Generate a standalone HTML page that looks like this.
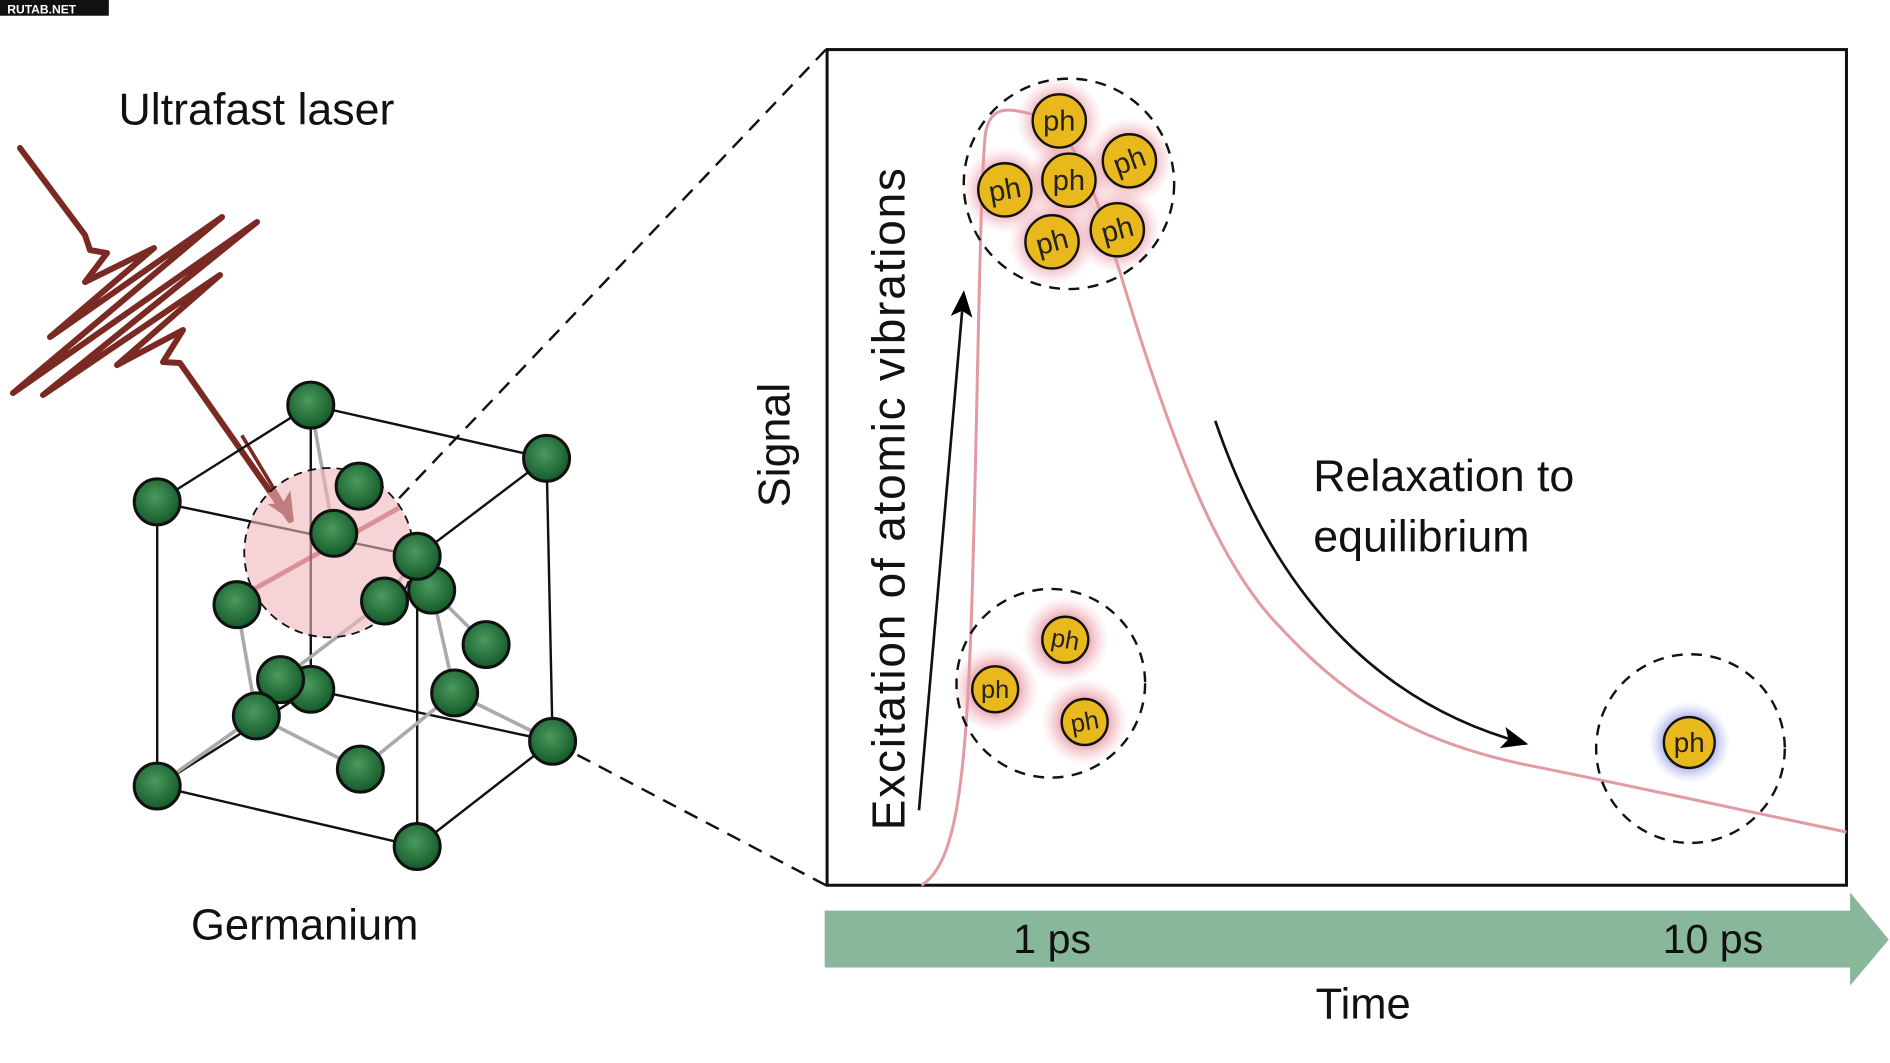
<!DOCTYPE html>
<html><head><meta charset="utf-8"><style>
html,body{margin:0;padding:0;background:#fff;}
svg{display:block;}
text{font-family:"Liberation Sans","DejaVu Sans",sans-serif;}
</style></head><body>
<svg width="1890" height="1063" viewBox="0 0 1563 879" preserveAspectRatio="none" xmlns="http://www.w3.org/2000/svg">
<defs>
<radialGradient id="atom" cx="45%" cy="40%" r="60%"><stop offset="0" stop-color="#4a9a5e"/><stop offset="1" stop-color="#145a2a"/></radialGradient>
<radialGradient id="pglow"><stop offset="0.5" stop-color="#e58a96" stop-opacity="0.8"/><stop offset="1" stop-color="#f3c0c8" stop-opacity="0"/></radialGradient>
<radialGradient id="bglow"><stop offset="0.5" stop-color="#6a70d8" stop-opacity="0.8"/><stop offset="1" stop-color="#c0c4f0" stop-opacity="0"/></radialGradient>
<marker id="ahr" markerWidth="26" markerHeight="22" refX="22" refY="11" orient="auto" markerUnits="userSpaceOnUse"><path d="M0,0 L24,11 L0,22 L6,11 z" fill="#7a2a22"/></marker>
<marker id="ahb" markerWidth="24" markerHeight="18" refX="20" refY="9" orient="auto" markerUnits="userSpaceOnUse"><path d="M0,0 L22,9 L0,18 L5,9 z" fill="#000"/></marker>
</defs>
<rect x="0" y="0" width="90" height="13" fill="#111"/>
<text x="6" y="11" font-size="10" font-weight="bold" fill="#fff">RUTAB.NET</text>

<text x="98" y="103" font-size="37" fill="#111">Ultrafast laser</text>
<text x="158" y="777" font-size="36" fill="#111">Germanium</text>

<!-- laser wave -->
<g transform="scale(0.827)">
<polyline points="20,148 85,235 90,250 107,253 85,282 154,248 50,337 222,217 13,393 257,222 43,395 220,275 117,365 183,330 163,362 180,363 290,520" fill="none" stroke="#7a2a22" stroke-width="6" stroke-linejoin="round" stroke-linecap="round"/>
</g>
<line x1="200" y1="360" x2="242" y2="430" stroke="#7a2a22" stroke-width="3" marker-end="url(#ahr)"/>

<!-- cube -->
<g stroke="#111" stroke-width="2" fill="none">
<polygon points="257,335 452,379 345,460 130,415"/>
<polygon points="257,570 457,613 345,700 130,650"/>
<line x1="130" y1="415" x2="130" y2="650"/>
<line x1="345" y1="460" x2="345" y2="700"/>
<line x1="452" y1="379" x2="457" y2="613"/>
<line x1="257" y1="335" x2="257" y2="570"/>
</g>
<g stroke="#aaa" stroke-width="3">
<line x1="257" y1="335" x2="276" y2="441"/><line x1="196" y1="500" x2="212" y2="592"/>
<line x1="130" y1="650" x2="212" y2="592"/><line x1="212" y1="592" x2="298" y2="636"/>
<line x1="345" y1="460" x2="318" y2="497"/><line x1="357" y1="488" x2="402" y2="533"/>
<line x1="376" y1="573" x2="457" y2="613"/><line x1="376" y1="573" x2="298" y2="636"/>
<line x1="357" y1="488" x2="376" y2="573"/><line x1="232" y1="562" x2="318" y2="497"/>
</g>
<circle cx="272" cy="457" r="70" fill="#f0b5bb" fill-opacity="0.6" stroke="#111" stroke-width="1.5" stroke-dasharray="7,5"/>
<line x1="205" y1="490" x2="330" y2="420" stroke="#c0505a" stroke-width="4" opacity="0.5"/>
<g fill="url(#atom)" stroke="#111" stroke-width="2.5">
<circle cx="257" cy="335" r="19"/><circle cx="452" cy="379" r="19"/><circle cx="130" cy="415" r="19"/>
<circle cx="297" cy="402" r="19"/><circle cx="276" cy="441" r="19"/><circle cx="196" cy="500" r="19"/>
<circle cx="357" cy="488" r="19"/><circle cx="345" cy="460" r="19"/><circle cx="318" cy="497" r="19"/>
<circle cx="402" cy="533" r="19"/><circle cx="257" cy="570" r="19"/><circle cx="232" cy="562" r="19"/>
<circle cx="212" cy="592" r="19"/><circle cx="376" cy="573" r="19"/><circle cx="298" cy="636" r="19"/>
<circle cx="457" cy="613" r="19"/><circle cx="130" cy="650" r="19"/><circle cx="345" cy="700" r="19"/>
</g>

<!-- zoom dashed lines -->
<line x1="683" y1="41" x2="330" y2="412" stroke="#111" stroke-width="2" stroke-dasharray="12,8"/>
<line x1="683" y1="732" x2="475" y2="623" stroke="#111" stroke-width="2" stroke-dasharray="12,8"/>

<!-- panel -->
<rect x="684" y="41" width="843" height="691" fill="none" stroke="#111" stroke-width="2.5"/>

<!-- glows -->
<g>
<circle cx="876" cy="100" r="36" fill="url(#pglow)"/><circle cx="831" cy="157" r="36" fill="url(#pglow)"/>
<circle cx="884" cy="149" r="36" fill="url(#pglow)"/><circle cx="934" cy="133" r="36" fill="url(#pglow)"/>
<circle cx="870" cy="200" r="36" fill="url(#pglow)"/><circle cx="924" cy="190" r="36" fill="url(#pglow)"/>
<circle cx="881" cy="529" r="36" fill="url(#pglow)"/><circle cx="823" cy="570" r="36" fill="url(#pglow)"/>
<circle cx="897" cy="597" r="36" fill="url(#pglow)"/><circle cx="1397" cy="614" r="34" fill="url(#bglow)"/>
</g>

<!-- curve -->
<path d="M762,732 C790,715 798,650 803,520 C808,380 810,150 815,110 C820,85 835,88 870,100 C900,130 915,190 940,270 C975,380 1010,470 1060,520 C1120,585 1180,615 1260,632 C1360,652 1450,672 1527,688" fill="none" stroke="#e29ba3" stroke-width="2.5"/>

<!-- dashed circles -->
<g fill="none" stroke="#111" stroke-width="2" stroke-dasharray="9,7">
<circle cx="884" cy="152" r="87"/><circle cx="869" cy="565" r="78"/><circle cx="1398" cy="619" r="78"/>
</g>

<!-- ph balls -->
<g fill="#e8b81c" stroke="#111" stroke-width="2">
<circle cx="876" cy="100" r="22"/><circle cx="831" cy="157" r="22"/><circle cx="884" cy="149" r="22"/>
<circle cx="934" cy="133" r="22"/><circle cx="870" cy="200" r="22"/><circle cx="924" cy="190" r="22"/>
<circle cx="881" cy="529" r="19"/><circle cx="823" cy="570" r="19"/><circle cx="897" cy="597" r="19"/>
<circle cx="1397" cy="614" r="21"/>
</g>
<g font-size="24" fill="#222" text-anchor="middle">
<text x="876" y="108">ph</text><text x="831" y="165" transform="rotate(-10 831 157)">ph</text>
<text x="884" y="157">ph</text><text x="934" y="141" transform="rotate(-20 934 133)">ph</text>
<text x="870" y="208" transform="rotate(-15 870 200)">ph</text><text x="924" y="198" transform="rotate(-15 924 190)">ph</text>
<text x="881" y="536" font-size="21" transform="rotate(10 881 529)">ph</text>
<text x="823" y="577" font-size="21">ph</text>
<text x="897" y="604" font-size="21" transform="rotate(-10 897 597)">ph</text>
<text x="1397" y="622" font-size="23">ph</text>
</g>

<!-- arrows -->
<path d="M760,670 C772,520 785,380 797,242" fill="none" stroke="#111" stroke-width="2.2" marker-end="url(#ahb)"/>
<path d="M1005,348 C1050,480 1130,580 1262,615" fill="none" stroke="#111" stroke-width="2.2" marker-end="url(#ahb)"/>

<!-- labels -->
<text transform="translate(653,368) rotate(-90)" font-size="37" fill="#111" text-anchor="middle">Signal</text>
<text transform="translate(748,412) rotate(-90)" font-size="38" letter-spacing="1.5" fill="#111" text-anchor="middle">Excitation of  atomic vibrations</text>
<text x="1086" y="406" font-size="37" fill="#111">Relaxation to</text>
<text x="1086" y="456" font-size="37" fill="#111">equilibrium</text>

<!-- time bar -->
<polygon points="682,753 1530,753 1530,738 1562,777 1530,815 1530,800 682,800" fill="#88b79b"/>
<text x="838" y="788" font-size="34" fill="#111">1 ps</text>
<text x="1375" y="788" font-size="34" fill="#111">10 ps</text>
<text x="1088" y="842" font-size="36" fill="#111">Time</text>
</svg>
</body></html>
